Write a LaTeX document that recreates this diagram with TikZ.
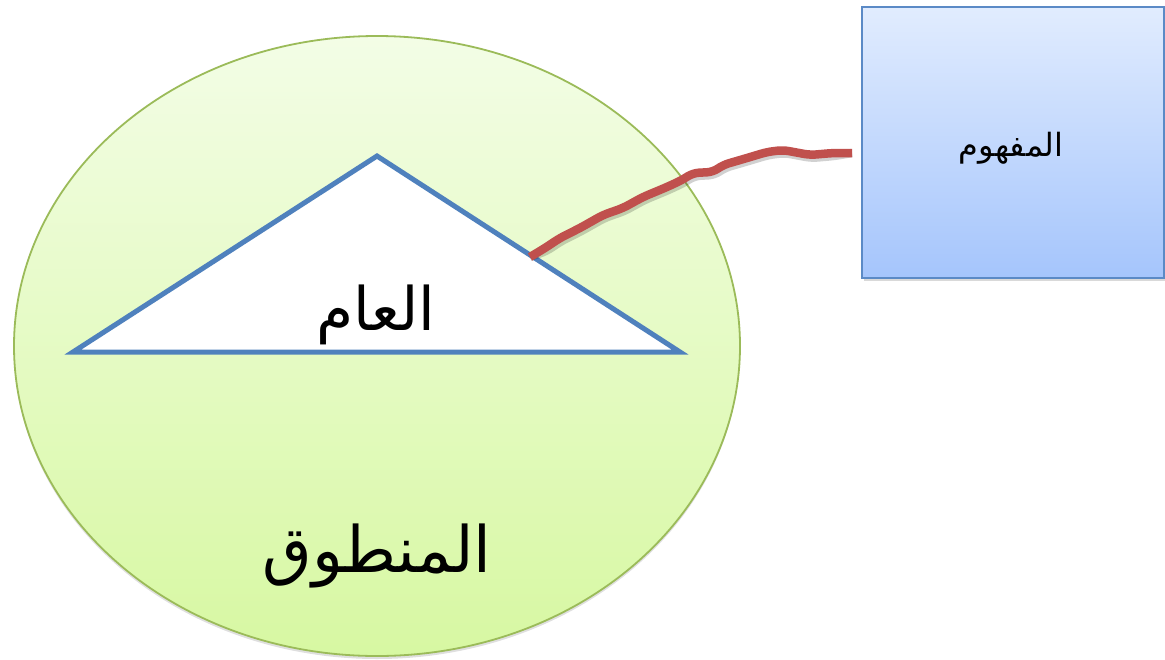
\documentclass[tikz,border=0pt]{standalone}
\usepackage{fontspec}
\TeXXeTstate=1
\newfontfamily\arabicfont[Script=Arabic]{DejaVu Sans}
\usetikzlibrary{shadows,shapes.geometric}
\definecolor{elbord}{HTML}{9BBB59}
\definecolor{eltop}{HTML}{F3FDE6}
\definecolor{elbot}{HTML}{D7F8A2}
\definecolor{bxtop}{HTML}{E1ECFE}
\definecolor{bxbot}{HTML}{A5C5FC}
\definecolor{bxbord}{HTML}{5B8AC6}
\definecolor{tribl}{HTML}{4F81BD}
\definecolor{wavy}{HTML}{C0504D}
\tikzset{
  lbl/.style={font=\arabicfont, text=black, inner sep=0pt, anchor=base},
  wavyline/.style={line width=8.5pt, line cap=butt, line join=round, rounded corners=6pt},
}
\begin{document}
\begin{tikzpicture}[x=1pt,y=-1pt]
\useasboundingbox (0,0) rectangle (1165,659);
% ellipse
\node[ellipse, draw=elbord, line width=1.8pt, top color=eltop, bottom color=elbot,
      drop shadow={shadow xshift=0pt, shadow yshift=-3pt, opacity=0.25},
      minimum width=726pt, minimum height=620pt, inner sep=0pt]
      (ell) at (377,346) {};
% box
\node[draw=bxbord, line width=1.8pt, top color=bxtop, bottom color=bxbot,
      drop shadow={shadow xshift=2pt, shadow yshift=-3pt, opacity=0.3},
      minimum width=302pt, minimum height=271pt, inner sep=0pt, anchor=north west]
      (box) at (861,6) {};
% triangle
\coordinate (tl) at (73,352);
\coordinate (tt) at (377,156);
\coordinate (tr) at (680,352);
\draw[tribl, line width=5pt, fill=white, line join=miter] (tl) -- (tt) -- (tr) -- cycle;
\coordinate (wstart) at (530,257);
\coordinate (wend) at (852,153);
% wavy connector: shadow then line
\draw[black, opacity=0.18, wavyline, shift={(1.5,3)}]
  (wstart) -- (545,248) -- (560,238) -- (580,228) -- (603,215) -- (623,208)
  -- (643,197) -- (667,187) -- (682,180) -- (693,173) -- (713,172) -- (723,165)
  -- (747,158) -- (767,152) -- (783,150) -- (810,155) -- (833,153) -- (wend);
\draw[wavy, wavyline]
  (wstart) -- (545,248) -- (560,238) -- (580,228) -- (603,215) -- (623,208)
  -- (643,197) -- (667,187) -- (682,180) -- (693,173) -- (713,172) -- (723,165)
  -- (747,158) -- (767,152) -- (783,150) -- (810,155) -- (833,153) -- (wend);
% labels
\node[lbl, font=\arabicfont\fontsize{60}{70}\selectfont] (aam) at (376,330) {\beginR العام\endR};
\node[lbl, font=\arabicfont\fontsize{64}{74}\selectfont] (mant) at (377,572) {\beginR المنطوق\endR};
\node[lbl, font=\arabicfont\fontsize{32}{38}\selectfont] (mafh) at (1011,156) {\beginR المفهوم\endR};
\end{tikzpicture}
\end{document}
